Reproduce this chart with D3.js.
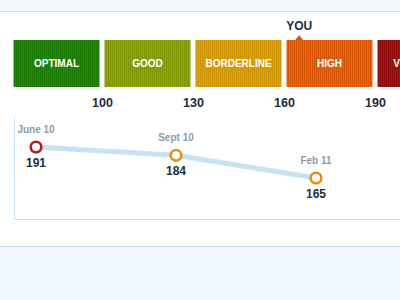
<!DOCTYPE html>
<html lang="en">
<head>
    <meta charset="UTF-8">
    <title>Cholesterol Range</title>
    <script src="https://d3js.org/d3.v7.min.js"></script>
    <style>
        body { margin: 0; background: #fff; }
        svg { display: block; font-family: "Liberation Sans", Arial, sans-serif; }
    </style>
</head>
<body>
    <svg width="400" height="300"></svg>

    <script>
        // range bands
        const bandNames = ["OPTIMAL", "GOOD", "BORDERLINE", "HIGH", "VERY HIGH"];
        const bandBreaks = [70, 100, 130, 160, 190, 220];
        const bandColors = ["#238c03", "#8fa70c", "#dca602", "#e8680c", "#a51410"];
        const bandStripes = ["#1a7a00", "#7f9600", "#cf9500", "#d65300", "#8f0c0a"];
        const tickValues = [100, 130, 160, 190];

        // history
        const dates = ["June 10", "Sept 10", "Feb 11"];
        const readings = [191, 184, 165];
        const youValue = 165;

        const svg = d3.select("svg");

        // page frame bits
        svg.append("rect").attr("x", 0).attr("y", 0).attr("width", 400).attr("height", 11).attr("fill", "#f1f8fe");
        svg.append("line").attr("x1", 0).attr("x2", 400).attr("y1", 11.5).attr("y2", 11.5).attr("stroke", "#c9e0f1");
        svg.append("rect").attr("x", 0).attr("y", 246).attr("width", 400).attr("height", 54).attr("fill", "#f1f8fe");
        svg.append("line").attr("x1", 0).attr("x2", 400).attr("y1", 246.5).attr("y2", 246.5).attr("stroke", "#c9e0f1");

        // stripe patterns
        const defs = svg.append("defs");
        bandColors.forEach((c, i) => {
            const p = defs.append("pattern")
                .attr("id", "stripe" + i)
                .attr("width", 2).attr("height", 4)
                .attr("patternUnits", "userSpaceOnUse");
            p.append("rect").attr("width", 2).attr("height", 4).attr("fill", c);
            p.append("rect").attr("width", 1).attr("height", 4).attr("fill", bandStripes[i]);
        });

        const x = d3.scaleLinear().domain([100, 190]).range([102, 375]);
        const barTop = 40, barH = 47, gap = 2.5;

        const bands = bandNames.map((name, i) => ({ name, lo: bandBreaks[i], hi: bandBreaks[i + 1], i }));

        svg.selectAll(".band")
            .data(bands)
            .enter().append("rect")
            .attr("class", "band")
            .attr("x", d => x(d.lo) + gap)
            .attr("y", barTop)
            .attr("width", d => x(d.hi) - x(d.lo) - gap * 2)
            .attr("height", barH)
            .attr("fill", d => "url(#stripe" + d.i + ")");

        svg.selectAll(".band-label")
            .data(bands)
            .enter().append("text")
            .attr("x", d => (x(d.lo) + x(d.hi)) / 2)
            .attr("y", barTop + barH / 2 + 3.5)
            .attr("text-anchor", "middle")
            .attr("fill", "#fff")
            .attr("font-size", 10)
            .attr("font-weight", "bold")
            .text(d => d.name);

        // axis under the bars
        const axis = svg.append("g")
            .attr("transform", "translate(0,107)")
            .call(d3.axisBottom(x).tickValues(tickValues).tickSize(0).tickPadding(0));
        axis.select(".domain").remove();
        axis.selectAll("text")
            .attr("dy", 0)
            .attr("fill", "#1e2c3b")
            .attr("font-size", 12.5)
            .attr("font-weight", "bold")
            .attr("font-family", "Liberation Sans, Arial, sans-serif");

        // you marker
        const ux = x(youValue);
        svg.append("path")
            .attr("d", `M${ux - 4},${barTop} L${ux},${barTop - 5} L${ux + 4},${barTop} Z`)
            .attr("fill", "url(#stripe3)");
        svg.append("text")
            .attr("x", ux)
            .attr("y", 30)
            .attr("text-anchor", "middle")
            .attr("fill", "#1e2c3b")
            .attr("font-size", 12)
            .attr("font-weight", "bold")
            .text("YOU");

        // history panel
        svg.append("path")
            .attr("d", "M14.5,117 V219.5 H400")
            .attr("fill", "none")
            .attr("stroke", "#c6e0f2");

        const hx = d3.scalePoint().domain(dates).range([36, 316]);
        const hy = d3.scaleLinear().domain([165, 191]).range([178, 147]);

        const pts = dates.map((d, i) => ({ date: d, value: readings[i], i }));

        svg.append("path")
            .datum(pts)
            .attr("fill", "none")
            .attr("stroke", "#c7e3f3")
            .attr("stroke-width", 5)
            .attr("d", d3.line().x(d => hx(d.date)).y(d => hy(d.value)));

        svg.selectAll(".pt")
            .data(pts)
            .enter().append("circle")
            .attr("cx", d => hx(d.date))
            .attr("cy", d => hy(d.value))
            .attr("r", 5.3)
            .attr("fill", "#fff")
            .attr("stroke", d => d.i === 0 ? "#b3211c" : "#e29110")
            .attr("stroke-width", 2.6);

        svg.selectAll(".date-label")
            .data(pts)
            .enter().append("text")
            .attr("x", d => hx(d.date))
            .attr("y", d => hy(d.value) - 14.5)
            .attr("text-anchor", "middle")
            .attr("fill", "#8c9ba8")
            .attr("font-size", 10)
            .attr("font-weight", "bold")
            .text(d => d.date);

        svg.selectAll(".value-label")
            .data(pts)
            .enter().append("text")
            .attr("x", d => hx(d.date))
            .attr("y", d => hy(d.value) + 20)
            .attr("text-anchor", "middle")
            .attr("fill", "#1e2c3b")
            .attr("font-size", 12)
            .attr("font-weight", "bold")
            .text(d => d.value);
    </script>
</body>
</html>
